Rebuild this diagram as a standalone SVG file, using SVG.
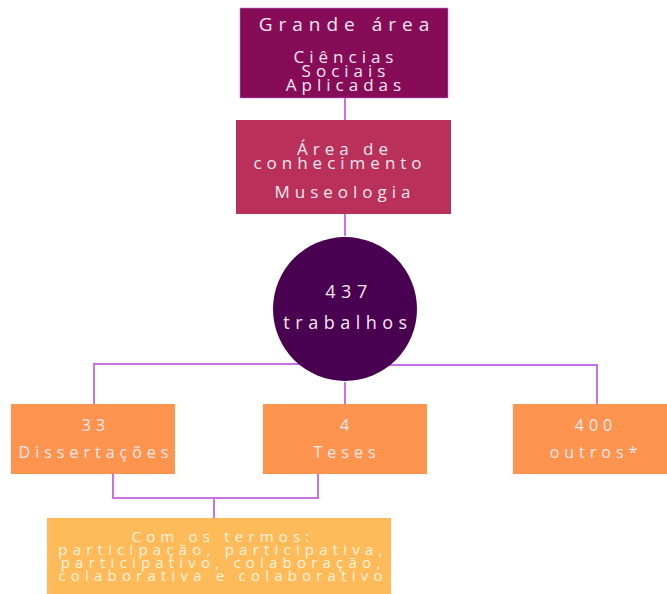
<svg xmlns="http://www.w3.org/2000/svg" width="667" height="594" viewBox="0 0 667 594">
<style>
.t{font-family:"Open Sans","DejaVu Sans",sans-serif;fill:#f6e8f0;text-anchor:middle}
.c{fill:none;stroke:#c772e6;stroke-width:2}
</style>
<rect width="667" height="594" fill="#ffffff"/>
<g id="connectors">
<path class="c" d="M345 98V120M345 214V236"/>
<path class="c" d="M345 364H94V404M345 365H597V404M345 382V404"/>
<path class="c" d="M113 474V498H318V474M214 498V540"/>
</g>
<g id="grande-area">
<rect x="240" y="8" width="208" height="90" fill="#870c58" stroke="#c772e6" stroke-width="0.6"/>
<text class="t" font-size="19" letter-spacing="6" x="347" y="31">Grande área</text>
<text class="t" font-size="17" letter-spacing="5" x="346" y="63">Ciências</text>
<text class="t" font-size="17" letter-spacing="5" x="346" y="77">Sociais</text>
<text class="t" font-size="17" letter-spacing="5" x="346" y="91">Aplicadas</text>
</g>
<g id="area-conhecimento">
<rect x="236" y="120" width="215" height="94" fill="#b9305b"/>
<text class="t" font-size="17" letter-spacing="5" x="345" y="155">Área de</text>
<text class="t" font-size="17" letter-spacing="5" x="340" y="169">conhecimento</text>
<text class="t" font-size="17" letter-spacing="5" x="345" y="198">Museologia</text>
</g>
<g id="trabalhos">
<circle cx="345" cy="309" r="72" fill="#4a0050"/>
<text class="t" font-size="18" letter-spacing="5.5" x="349" y="298">437</text>
<text class="t" font-size="18" letter-spacing="5.5" x="348" y="329">trabalhos</text>
</g>
<g id="dissertacoes">
<rect x="11" y="404" width="164" height="70" fill="#ff944e"/>
<text class="t" font-size="16" letter-spacing="5" x="96" y="431">33</text>
<text class="t" font-size="16" letter-spacing="5" x="96" y="458">Dissertações</text>
</g>
<g id="teses">
<rect x="263" y="404" width="164" height="70" fill="#ff944e"/>
<text class="t" font-size="16" letter-spacing="5" x="347" y="431">4</text>
<text class="t" font-size="16" letter-spacing="5" x="347" y="458">Teses</text>
</g>
<g id="outros">
<rect x="513" y="404" width="154" height="70" fill="#ff944e"/>
<text class="t" font-size="16" letter-spacing="5" x="596" y="431">400</text>
<text class="t" font-size="16" letter-spacing="5" x="596" y="458">outros*</text>
</g>
<g id="termos">
<rect x="47" y="518" width="344" height="76" fill="#ffbb5a"/>
<g class="t" font-size="15" letter-spacing="5.2" style="fill:#fff3de">
<text x="223" y="542">Com os termos:</text>
<text x="223" y="555">participação, participativa,</text>
<text x="223" y="568">participativo, colaboração,</text>
<text x="223" y="581">colaborativa e colaborativo</text>
</g>
</g>
</svg>
